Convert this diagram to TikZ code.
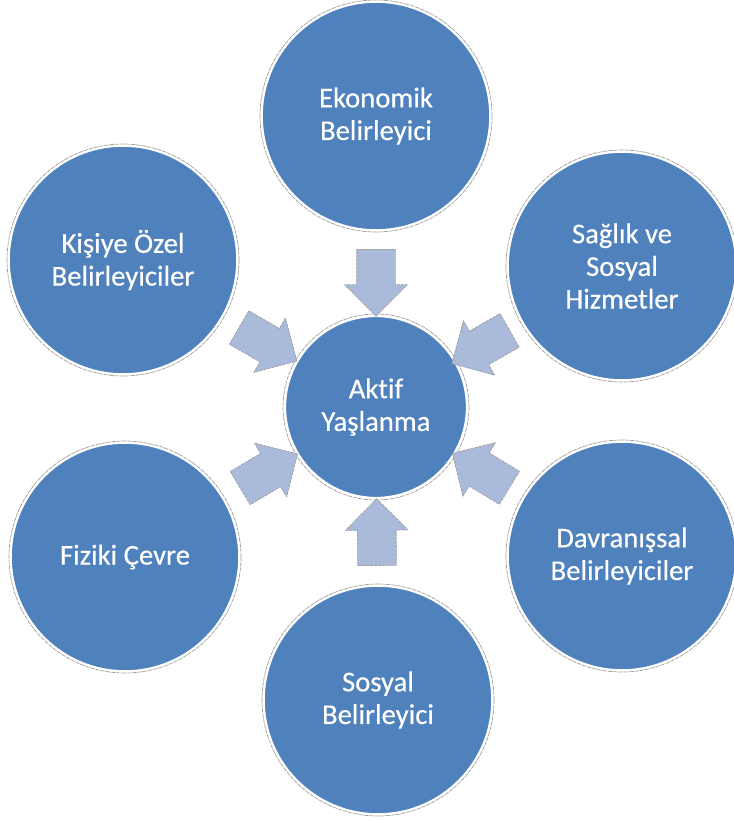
\documentclass[tikz,border=0pt]{standalone}
\usepackage{fontspec}
\setmainfont{Carlito}[Ligatures={NoCommon}, FakeBold=0.4]
\usepackage{xcolor}
\usetikzlibrary{shapes.arrows}
\definecolor{bubble_blue}{HTML}{4F81BD}
\definecolor{arrow_blue}{HTML}{A9BADB}
\definecolor{rim_gray}{HTML}{9C9C9C}

\begin{document}
\begin{tikzpicture}[
            x=0.75pt,
            y=-0.75pt,
            line cap=round,
            line join=round,
            bubble/.style={circle, fill=bubble_blue, draw=white, line width=2.2pt,
                text=white, align=center, inner sep=0pt,
                font=\fontsize{21.5}{24.5}\selectfont, minimum size=#1},
            rim/.style={draw=rim_gray, line width=0.5pt, dash pattern=on 3pt off 1pt},
            blockarrow/.style={single arrow, fill=arrow_blue, draw=rim_gray,
                line width=0.5pt, dash pattern=on 2pt off 1pt,
                minimum height=50pt, inner xsep=0pt, inner ysep=14.25pt,
                single arrow head extend=9pt,
                sloped, allow upside down, pos=0.54}
        ]
            \useasboundingbox (0,0) rectangle (734,822);
            \fill[white] (0,0) rectangle (734,822);

            % Centre circle
            \node[bubble=137pt] (aktif) at (376,407) {Aktif\\Yaşlanma};

            % Outer circles
            \node[bubble=172pt] (ekonomik) at (376,116) {Ekonomik\\Belirleyici};
            \node[bubble=172pt] (kisiye) at (123,260) {Kişiye Özel\\Belirleyiciler};
            \node[bubble=172pt] (saglik) at (622,266) {Sağlık ve\\Sosyal\\Hizmetler};
            \node[bubble=172pt] (fiziki) at (125,557) {Fiziki Çevre};
            \node[bubble=172pt] (davranis) at (622,556) {Davranışsal\\Belirleyiciler};
            \node[bubble=172pt] (sosyal) at (378,700) {Sosyal\\Belirleyici};

            % Thin outline round each circle
            \foreach \name/\rad in {aktif/93, ekonomik/116, kisiye/116, saglik/116,
                fiziki/116, davranis/116, sosyal/116}
                \draw[rim] (\name.center) circle[radius=\rad];

            % Block arrows pointing at the centre
            \foreach \name in {ekonomik, kisiye, saglik, fiziki, davranis, sosyal}
                \path (\name.center) -- (aktif.center) node[blockarrow] (arr_\name) {};
        \end{tikzpicture}
\end{document}
